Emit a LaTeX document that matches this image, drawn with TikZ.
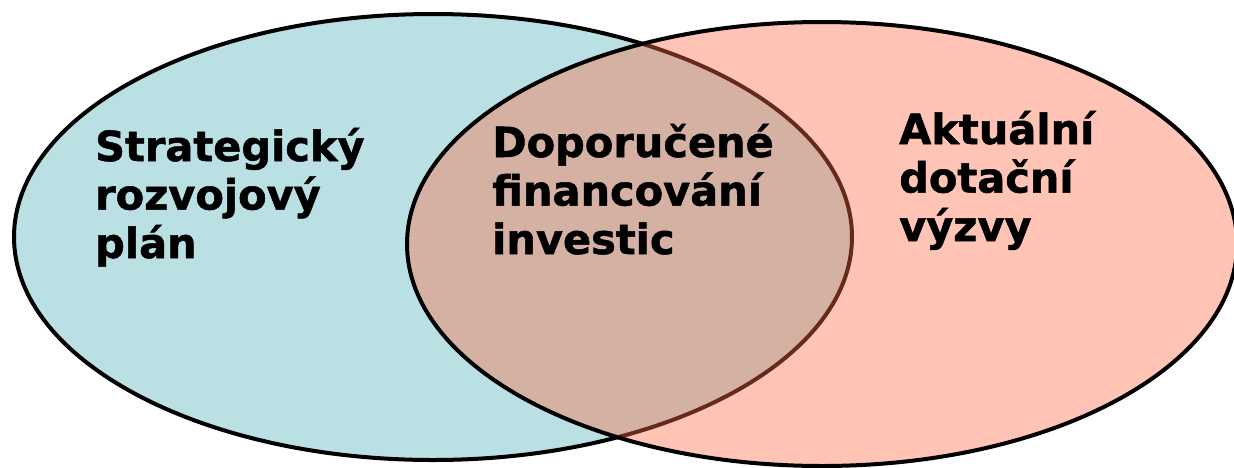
\documentclass[tikz,border=0pt]{standalone}
\usepackage{fontspec}
\setmainfont{DejaVu Sans}
\newfontfamily\lblfont[FakeBold=1.2]{DejaVu Sans Bold}
\usetikzlibrary{shapes.geometric}
\definecolor{leftfill}{RGB}{186,224,227}
\definecolor{rightfill}{RGB}{255,107,70}
\tikzset{
  setbox/.style={ellipse, draw=black, line width=4pt, inner sep=0pt},
  lbl/.style={anchor=base west, align=left, inner sep=0pt,
    font=\fontsize{41.5}{48.5}\lblfont}
}
\begin{document}
\begin{tikzpicture}[x=1pt,y=-1pt]
\useasboundingbox (0,0) rectangle (1234,467);
\node[setbox, fill=leftfill, minimum width=838pt, minimum height=446pt] (left) at (433,237) {};
\node[setbox, fill=rightfill, fill opacity=0.4, minimum width=830pt, minimum height=444pt] (right) at (822,244) {};
\node[lbl] (t1) at (95,258) {Strategický\\rozvojový\\plán};
\node[lbl] (t2) at (492,254) {Doporučené\\financování\\investic};
\node[lbl] (t3) at (899,241) {Aktuální\\dotační\\výzvy};
\end{tikzpicture}
\end{document}
